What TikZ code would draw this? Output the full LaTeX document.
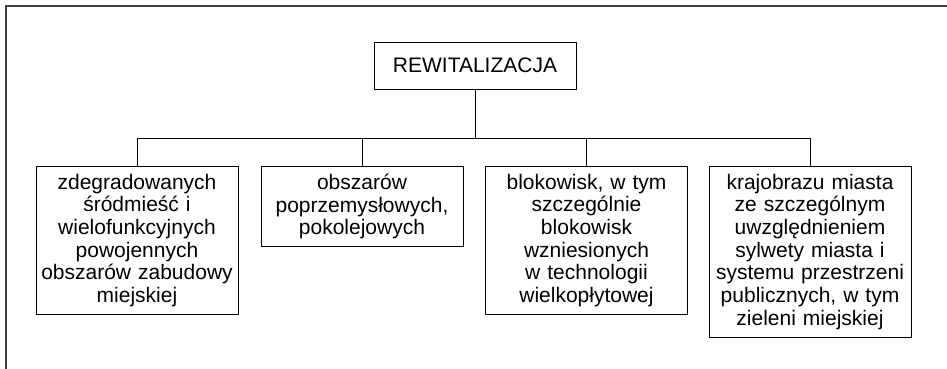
\documentclass[tikz,border=0pt]{standalone}
\usepackage{fontspec}
\setmainfont{Liberation Sans}
\usepackage{tikz}

\begin{document}
\begin{tikzpicture}[x=1pt,y=-1pt,
    box/.style={draw,line width=0.9pt,align=center,
      font=\fontsize{21}{22.7}\selectfont},
    leaf/.style={box,anchor=north,text width=196pt,inner xsep=3pt,inner ysep=7.5pt}]
    \useasboundingbox (0,0) rectangle (947,369) ;
    \draw [black!75,line width=1.2pt] (6,369) -- (6,6) -- (947,6) ;

    \node[box,minimum width=202pt,minimum height=47pt] (root) at (475,65.5) {REWITALIZACJA} ;
    \coordinate (bar) at (475,138) ;

    \node[leaf] (c1) at (137,166) {zdegradowanych\\ śródmieść i\\ wielofunkcyjnych\\ powojennych\\ obszarów zabudowy\\ miejskiej} ;
    \node[leaf] (c2) at (362,166) {obszarów\\ poprzemysłowych,\\ pokolejowych} ;
    \node[leaf] (c3) at (586.5,166) {blokowisk, w tym\\ szczególnie\\ blokowisk\\ wzniesionych\\ w technologii\\ wielkopłytowej} ;
    \node[leaf] (c4) at (810,166) {krajobrazu miasta\\ ze szczególnym\\ uwzględnieniem\\ sylwety miasta i\\ systemu przestrzeni\\ publicznych, w tym\\ zieleni miejskiej} ;

    \draw (root.south) -- (root.south |- bar) ;
    \draw (c1.north) -- (c1.north |- bar) -| (c4.north) ;
    \foreach \n in {c2,c3}
      \draw (\n.north) -- (\n.north |- bar) ;
\end{tikzpicture}
\end{document}
